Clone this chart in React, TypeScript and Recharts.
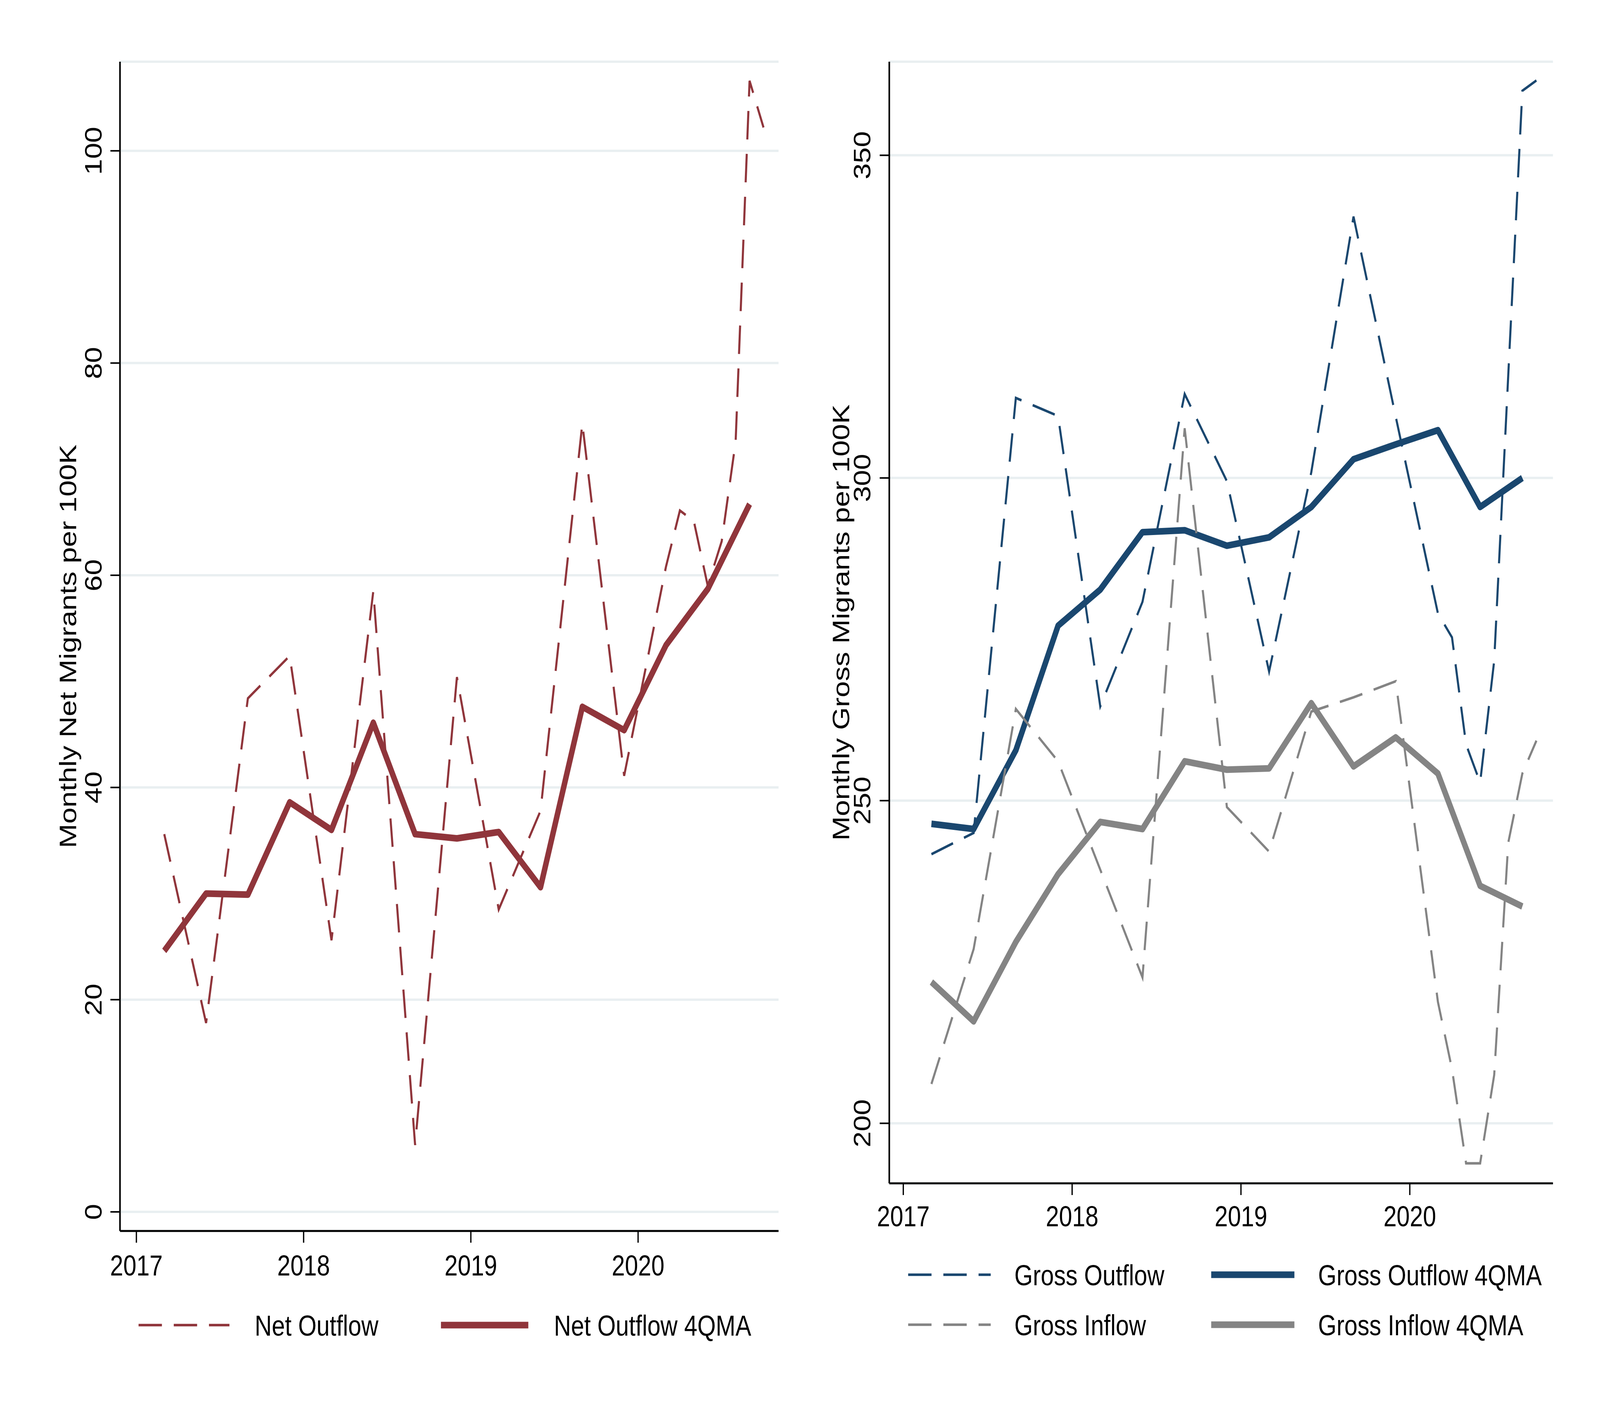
import React from 'react';
import { LineChart, Line, XAxis, YAxis, CartesianGrid } from 'recharts';

// observation dates (quarterly until 2019, monthly from Mar 2020)
const periods = [
  '2017-03', '2017-06', '2017-09', '2017-12',
  '2018-03', '2018-06', '2018-09', '2018-12',
  '2019-03', '2019-06', '2019-09', '2019-12',
  '2020-03', '2020-04', '2020-05', '2020-06', '2020-07', '2020-08', '2020-09', '2020-10',
];
const netOutflow = [35.6, 17.8, 48.4, 52.4, 25.6, 58.5, 6.3, 50.4, 28.5, 37.8, 74.3, 41.1, 60.8, 66.1, 65.1, 59.0, 63.2, 72.6, 106.6, 102.2];
const grossOutflow = [241.7, 245.0, 312.4, 309.6, 264.6, 280.8, 313.0, 299.5, 270.0, 300.9, 340.5, 309.5, 279.0, 275.3, 258.7, 252.8, 271.7, 316.0, 360.0, 361.6];
const grossInflow = [206.1, 227.0, 264.2, 256.1, 239.3, 222.6, 307.7, 249.0, 242.1, 263.8, 266.0, 268.5, 218.8, 208.4, 193.8, 193.8, 207.5, 243.5, 254.2, 259.3];

// 4-quarter moving averages
const maPeriods = [
  '2017-03', '2017-06', '2017-09', '2017-12',
  '2018-03', '2018-06', '2018-09', '2018-12',
  '2019-03', '2019-06', '2019-09', '2019-12',
  '2020-03', '2020-06', '2020-09',
];
const netOutflowMA = [24.6, 30.0, 29.9, 38.6, 36.0, 46.1, 35.6, 35.2, 35.8, 30.6, 47.6, 45.4, 53.4, 58.7, 66.7];
const grossOutflowMA = [246.4, 245.6, 257.8, 277.1, 282.7, 291.6, 291.9, 289.5, 290.8, 295.5, 302.9, 305.2, 307.4, 295.5, 300.0];
const grossInflowMA = [221.9, 215.8, 228.1, 238.6, 246.7, 245.6, 256.1, 254.8, 255.0, 265.1, 255.3, 259.8, 254.2, 236.8, 233.6];

const yearTicks = [2017, 2018, 2019, 2020];
const netTicks = [0, 20, 40, 60, 80, 100];
const grossTicks = [200, 250, 300, 350];

const MAROON = '#90353b';
const NAVY = '#1a476f';
const GRAY = '#848484';
const GRID = '#e9eff1';
const FONT = '"Liberation Sans", Arial, Helvetica, sans-serif';

const W = 5000;
const H = 3636;

const toYear = (p: string) => {
  const [y, m] = p.split('-').map(Number);
  return y + (m - 1) / 12;
};

const ma = (list: number[], p: string) => {
  const i = maPeriods.indexOf(p);
  return i < 0 ? null : list[i];
};

const rows = periods.map((p, i) => ({
  t: toYear(p),
  net: netOutflow[i],
  netMA: ma(netOutflowMA, p),
  gout: grossOutflow[i],
  goutMA: ma(grossOutflowMA, p),
  gin: grossInflow[i],
  ginMA: ma(grossInflowMA, p),
}));

const XTick = (props: any) => {
  const { x, y, payload } = props;
  return (
    <text x={x} y={y + 54} textAnchor="middle" fontSize={74} fontFamily={FONT} fill="#000">
      {payload.value}
    </text>
  );
};

const YTick = (props: any) => {
  const { x, y, payload } = props;
  return (
    <text
      x={x}
      y={y}
      transform={`rotate(-90 ${x} ${y})`}
      textAnchor="middle"
      fontSize={74}
      fontFamily={FONT}
      fill="#000"
    >
      {payload.value}
    </text>
  );
};

const axisLine = { stroke: '#000', strokeWidth: 5 };
const tickLine = { stroke: '#000', strokeWidth: 4 };
const DASH = '73 37';

function LegendItem({ x1, x2, y, color, dashed, label, textX }: any) {
  return (
    <g>
      <line
        x1={x1}
        x2={x2}
        y1={y}
        y2={y}
        stroke={color}
        strokeWidth={dashed ? 6.5 : 17}
        strokeDasharray={dashed ? DASH : undefined}
      />
      <text x={textX} y={y + 27} fontSize={74} fontFamily={FONT} fill="#000">
        {label}
      </text>
    </g>
  );
}

function AxisTitle({ x, y, text }: any) {
  return (
    <text
      x={x}
      y={y}
      transform={`rotate(-90 ${x} ${y})`}
      textAnchor="middle"
      fontSize={75}
      fontFamily={FONT}
      fill="#000"
    >
      {text}
    </text>
  );
}

export default function App() {
  // the figure is drawn at 5000x3636 and stretched onto the real viewport
  const vw = typeof window !== 'undefined' && window.innerWidth ? window.innerWidth : W;
  const vh = typeof window !== 'undefined' && window.innerHeight ? window.innerHeight : H;
  const sx = vw / W;
  const sy = vh / H;

  return (
    <div style={{ position: 'absolute', left: 0, top: 0, width: vw, height: vh, overflow: 'hidden', background: '#fff' }}>
      <div style={{ position: 'relative', width: W, height: H, transform: `scale(${sx}, ${sy})`, transformOrigin: '0 0' }}>
        <div style={{ position: 'absolute', left: 0, top: 0 }}>
          <LineChart width={2500} height={3636} data={rows} margin={{ top: 158, right: 67, bottom: 284, left: 75 }}>
            <CartesianGrid vertical={false} stroke={GRID} strokeWidth={6} />
            <XAxis
              dataKey="t"
              type="number"
              domain={[2016.902, 2020.84]}
              allowDataOverflow
              ticks={yearTicks}
              interval={0}
              height={200}
              tickSize={30}
              tickMargin={30}
              axisLine={axisLine}
              tickLine={tickLine}
              tick={<XTick />}
            />
            <YAxis
              type="number"
              domain={[-1.8, 108.4]}
              allowDataOverflow
              ticks={netTicks}
              interval={0}
              width={300}
              tickSize={30}
              tickMargin={28}
              axisLine={axisLine}
              tickLine={tickLine}
              tick={<YTick />}
            />
            <Line
              dataKey="net"
              stroke={MAROON}
              strokeWidth={6.5}
              strokeDasharray={DASH}
              dot={false}
              activeDot={false}
              isAnimationActive={false}
            />
            <Line
              dataKey="netMA"
              stroke={MAROON}
              strokeWidth={17}
              strokeLinejoin="round"
              connectNulls
              dot={false}
              activeDot={false}
              isAnimationActive={false}
            />
          </LineChart>
        </div>
        <div style={{ position: 'absolute', left: 2500, top: 0 }}>
          <LineChart width={2500} height={3636} data={rows} margin={{ top: 158, right: 147, bottom: 406, left: 79 }}>
            <CartesianGrid vertical={false} stroke={GRID} strokeWidth={6} />
            <XAxis
              dataKey="t"
              type="number"
              domain={[2016.917, 2020.848]}
              allowDataOverflow
              ticks={yearTicks}
              interval={0}
              height={200}
              tickSize={30}
              tickMargin={26}
              axisLine={axisLine}
              tickLine={tickLine}
              tick={<XTick />}
            />
            <YAxis
              type="number"
              domain={[190.7, 364.5]}
              allowDataOverflow
              ticks={grossTicks}
              interval={0}
              width={200}
              tickSize={30}
              tickMargin={29}
              axisLine={axisLine}
              tickLine={tickLine}
              tick={<YTick />}
            />
            <Line
              dataKey="gout"
              stroke={NAVY}
              strokeWidth={6.5}
              strokeDasharray={DASH}
              dot={false}
              activeDot={false}
              isAnimationActive={false}
            />
            <Line
              dataKey="goutMA"
              stroke={NAVY}
              strokeWidth={17}
              strokeLinejoin="round"
              connectNulls
              dot={false}
              activeDot={false}
              isAnimationActive={false}
            />
            <Line
              dataKey="gin"
              stroke={GRAY}
              strokeWidth={6.5}
              strokeDasharray={DASH}
              dot={false}
              activeDot={false}
              isAnimationActive={false}
            />
            <Line
              dataKey="ginMA"
              stroke={GRAY}
              strokeWidth={17}
              strokeLinejoin="round"
              connectNulls
              dot={false}
              activeDot={false}
              isAnimationActive={false}
            />
          </LineChart>
        </div>
        <svg width={W} height={H} style={{ position: 'absolute', left: 0, top: 0, pointerEvents: 'none' }}>
          <AxisTitle x={238} y={1655} text="Monthly Net Migrants per 100K" />
          <AxisTitle x={2654} y={1594} text="Monthly Gross Migrants per 100K" />

          <LegendItem x1={433} x2={717} y={3393} color={MAROON} dashed label="Net Outflow" textX={796} />
          <LegendItem x1={1378} x2={1651} y={3393} color={MAROON} label="Net Outflow 4QMA" textX={1731} />

          <LegendItem x1={2838} x2={3096} y={3264} color={NAVY} dashed label="Gross Outflow" textX={3170} />
          <LegendItem x1={3785} x2={4045} y={3264} color={NAVY} label="Gross Outflow 4QMA" textX={4119} />
          <LegendItem x1={2838} x2={3096} y={3392} color={GRAY} dashed label="Gross Inflow" textX={3170} />
          <LegendItem x1={3785} x2={4045} y={3392} color={GRAY} label="Gross Inflow 4QMA" textX={4119} />
        </svg>
      </div>
    </div>
  );
}
